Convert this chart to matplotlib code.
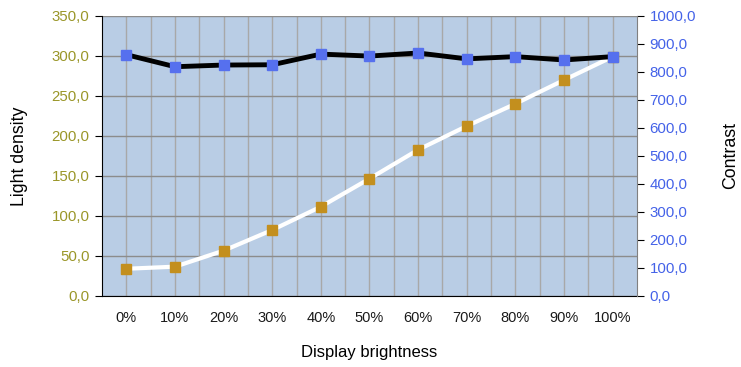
import matplotlib
matplotlib.use("Agg")
import matplotlib.pyplot as plt
from matplotlib.ticker import FuncFormatter, MultipleLocator

plt.rcParams['font.family'] = ['Liberation Sans', 'DejaVu Sans']

categories = ['0%', '10%', '20%', '30%', '40%', '50%', '60%', '70%', '80%', '90%', '100%']
light_density = [34.0, 36.6, 56.6, 82.4, 111.5, 146.5, 182.6, 212.2, 240.0, 269.7, 298.8]
contrast = [861, 818, 824, 825, 863, 856, 867, 846, 854, 842, 854]

fig = plt.figure(figsize=(7.41, 3.67), dpi=100)
ax = fig.add_axes([0.1377, 0.1935, 0.7219, 0.7637])
ax2 = ax.twinx()

x = list(range(len(categories)))
bg = '#B9CDE5'
ax.set_facecolor(bg)
ax.set_xlim(-0.5, len(categories) - 0.5)
ax.set_ylim(0, 350)
ax2.set_ylim(0, 1000)

# grid
ax.yaxis.set_major_locator(MultipleLocator(50))
ax.set_xticks(x)
ax.set_xticks([i + 0.5 for i in x[:-1]], minor=True)
ax.grid(axis='y', which='major', color='#8C8C8C', lw=1.0)
ax.grid(axis='x', which='both', color='#A8A8A8', lw=1.0)
ax.set_axisbelow(True)

ax.plot(x, light_density, color='white', lw=3, marker='s', ms=7,
        mfc='#C38F1E', mec='#C38F1E', zorder=3)
ax2.plot(x, contrast, color='black', lw=3.5, marker='s', ms=7,
         mfc='#5670EE', mec='#5670EE', zorder=4)

fmt = FuncFormatter(lambda v, p: f"{v:.1f}".replace('.', ','))
ax.yaxis.set_major_formatter(fmt)
ax2.yaxis.set_major_formatter(fmt)
ax2.yaxis.set_major_locator(MultipleLocator(100))

ax.set_xticklabels(categories)
ax.tick_params(axis='x', which='both', length=0, labelsize=10.5, colors='#1a1a1a', pad=11)
ax.tick_params(axis='y', length=5, labelsize=10.8, labelcolor='#9A9628', color='black', pad=4)
ax2.tick_params(axis='y', length=5, labelsize=10.8, labelcolor='#4462E8', color='black', pad=4)

for a in (ax, ax2):
    for s in ('top', 'right'):
        a.spines[s].set_visible(False)
    a.spines['left'].set_color('black')
    a.spines['bottom'].set_color('black')
ax2.spines['left'].set_visible(False)
ax2.spines['bottom'].set_visible(False)
ax2.spines['right'].set_visible(True)
ax2.spines['right'].set_color('#808080')

ax.set_ylabel('Light density', fontsize=12.8, labelpad=17)
ax2.set_ylabel('Contrast', fontsize=12.8, labelpad=19)
ax.set_xlabel('Display brightness', fontsize=12, labelpad=14)

fig.savefig('out.png', dpi=100)
